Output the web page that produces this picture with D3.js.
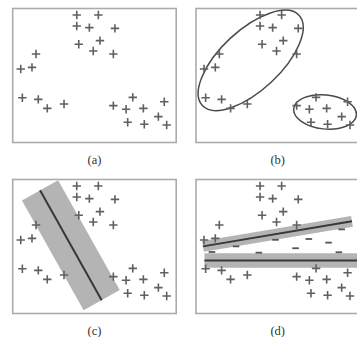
<!DOCTYPE html>
<html><head><meta charset="utf-8">
<script src="https://cdn.jsdelivr.net/npm/d3@7"></script>
<style>html,body{margin:0;padding:0;background:#fff;}</style>
</head><body>
<svg id="chart" width="357" height="337"></svg>
<script>
// ---- data (chart units: x 0..12.2, y 0..10) ----
const pointsX = [4.78, 6.39, 4.78, 5.72, 7.63, 6.51, 4.93, 6.01, 7.51, 1.74, 0.60, 1.44, 0.72, 1.91, 2.58, 3.83, 7.51, 8.96, 8.46, 9.75, 11.31, 8.58, 9.82, 10.87, 11.49];
const pointsY = [9.51, 9.51, 8.69, 8.57, 8.52, 7.60, 7.33, 6.83, 6.60, 6.60, 5.49, 5.61, 3.34, 3.22, 2.55, 2.87, 2.75, 3.37, 2.48, 2.55, 3.04, 1.51, 1.36, 1.93, 1.31];
const minusX = [1.19, 2.99, 4.69, 5.93, 7.43, 8.42, 9.89, 10.87, 10.66];
const minusY = [4.59, 5.01, 4.54, 5.50, 4.87, 5.56, 5.29, 6.28, 4.57];
const panelLabels = ["(a)", "(b)", "(c)", "(d)"];
// ellipses of panel (b)
const ellipseCX = [4.08, 9.63];
const ellipseCY = [6.13, 2.28];
const ellipseRX = [4.93, 2.35];
const ellipseRY = [2.24, 1.27];
const ellipseAngle = [43, -6];
// bands: panel index, line endpoints, full width
const bandPanel = [2, 3, 3];
const bandX1 = [2.04, 0.52, 0.63];
const bandY1 = [9.19, 5.01, 3.96];
const bandX2 = [6.64, 11.64, 12.2];
const bandY2 = [0.99, 6.88, 3.96];
const bandWidth = [3.09, 0.82, 1.08];

// ---- layout ----
const svg = d3.select("#chart");
const W = 163.5, H = 134;
const origins = [[12.7, 8.5], [196, 8.5], [12.7, 179.5], [196, 179.5]];
const x = d3.scaleLinear().domain([0, 12.2]).range([0, W]);
const y = d3.scaleLinear().domain([0, 10]).range([H, 0]);
const unit = x(1) - x(0);

origins.forEach((o, pi) => {
  const g = svg.append("g").attr("transform", `translate(${o[0]},${o[1]})`);
  g.append("rect").attr("x", 0).attr("y", 0).attr("width", W).attr("height", H)
    .attr("fill", "#fff").attr("stroke", "#ababab").attr("stroke-width", 1.6);

  // bands
  bandPanel.forEach((bp, bi) => {
    if (bp !== pi) return;
    const ax = x(bandX1[bi]), ay = y(bandY1[bi]), bx = x(bandX2[bi]), by = y(bandY2[bi]);
    const dx = bx - ax, dy = by - ay, len = Math.hypot(dx, dy);
    const nx = -dy / len, ny = dx / len, hw = bandWidth[bi] * unit / 2;
    const poly = [[ax + nx * hw, ay + ny * hw], [bx + nx * hw, by + ny * hw],
                  [bx - nx * hw, by - ny * hw], [ax - nx * hw, ay - ny * hw]];
    g.append("path").attr("d", d3.line()(poly) + "Z").attr("fill", "#b4b4b4");
    g.append("line").attr("x1", ax).attr("y1", ay).attr("x2", bx).attr("y2", by)
      .attr("stroke", "#383838").attr("stroke-width", 2);
  });

  // ellipses
  if (pi === 1) {
    ellipseCX.forEach((cx, ei) => {
      g.append("ellipse")
        .attr("cx", 0).attr("cy", 0)
        .attr("rx", ellipseRX[ei] * unit).attr("ry", ellipseRY[ei] * unit)
        .attr("transform", `translate(${x(cx)},${y(ellipseCY[ei])}) rotate(${-ellipseAngle[ei]})`)
        .attr("fill", "none").attr("stroke", "#4a4a4a").attr("stroke-width", 1.5);
    });
  }

  // minus signs
  if (pi === 3) {
    g.selectAll("line.minus").data(minusX).join("line").attr("class", "minus")
      .attr("x1", (d) => x(d) - 3.3).attr("x2", (d) => x(d) + 3.3)
      .attr("y1", (d, i) => y(minusY[i])).attr("y2", (d, i) => y(minusY[i]))
      .attr("stroke", "#555").attr("stroke-width", 1.8);
  }

  // plus signs
  const s = 4.2;
  g.selectAll("path.plus").data(pointsX).join("path").attr("class", "plus")
    .attr("d", (d, i) => {
      const px = x(d), py = y(pointsY[i]);
      return `M${px - s},${py}H${px + s}M${px},${py - s}V${py + s}`;
    })
    .attr("stroke", "#606060").attr("stroke-width", 1.6).attr("fill", "none");

  // label
  svg.append("text").attr("x", o[0] + W / 2).attr("y", o[1] + H + 21.5)
    .attr("text-anchor", "middle")
    .attr("font-family", "'Liberation Serif', 'DejaVu Serif', serif")
    .attr("font-size", 12.5).attr("fill", "#333")
    .text(panelLabels[pi]);
});
</script>
</body></html>
